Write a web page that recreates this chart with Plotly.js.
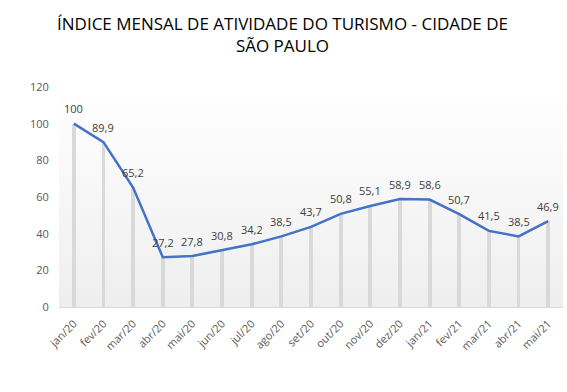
<!DOCTYPE html>
<html>
<head>
<meta charset="utf-8">
<script src="https://cdn.plot.ly/plotly-3.0.1.min.js"></script>
<style>html,body{margin:0;padding:0;background:#fff;}#chart{width:567px;height:392px;}</style>
</head>
<body>
<div id="chart"></div>
<script>
const months = ["jan/20","fev/20","mar/20","abr/20","mai/20","jun/20","jul/20","ago/20","set/20","out/20","nov/20","dez/20","jan/21","fev/21","mar/21","abr/21","mai/21"];
const indexValues = [100, 89.9, 65.2, 27.2, 27.8, 30.8, 34.2, 38.5, 43.7, 50.8, 55.1, 58.9, 58.6, 50.7, 41.5, 38.5, 46.9];
const yTicks = [0, 20, 40, 60, 80, 100, 120];
const titleText = "ÍNDICE MENSAL DE ATIVIDADE DO TURISMO - CIDADE DE<br>SÃO PAULO";

const fmt = v => (Number.isInteger(v) ? String(v) : v.toFixed(1).replace('.', ','));

const gradSvg = '<svg xmlns="http://www.w3.org/2000/svg" width="10" height="100" preserveAspectRatio="none"><defs><linearGradient id="g" x1="0" y1="0" x2="0" y2="1"><stop offset="0" stop-color="#ffffff"/><stop offset="1" stop-color="#eeeeee"/></linearGradient></defs><rect width="10" height="100" fill="url(#g)"/></svg>';
const gradUri = 'data:image/svg+xml;base64,' + btoa(gradSvg);

const font = "Open Sans, Liberation Sans, sans-serif";

const traces = [
  {
    type: 'bar',
    x: months,
    y: indexValues,
    width: 0.13,
    marker: {color: '#d9d9d9', line: {width: 0}},
    hoverinfo: 'skip',
    showlegend: false
  },
  {
    type: 'scatter',
    mode: 'lines',
    x: months,
    y: indexValues,
    line: {color: '#4472C4', width: 2.5},
    hoverinfo: 'skip',
    showlegend: false
  }
];

const labelAnns = months.map((m, i) => ({
  x: m, y: indexValues[i], xref: 'x', yref: 'y',
  text: fmt(indexValues[i]),
  showarrow: false,
  yanchor: 'middle',
  yshift: 15,
  font: {family: font, size: 11, color: '#404040'}
}));

const titleAnn = {
  xref: 'paper', yref: 'paper',
  x: 0.443, y: 1.35, xanchor: 'center', yanchor: 'top',
  text: titleText, showarrow: false,
  font: {family: font, size: 17, color: '#000000'}
};

const layout = {
  width: 567,
  height: 392,
  margin: {l: 59, r: 4, t: 87, b: 85},
  paper_bgcolor: '#ffffff',
  plot_bgcolor: 'rgba(0,0,0,0)',
  font: {family: font, color: '#595959'},
  xaxis: {
    type: 'category',
    tickangle: -45,
    tickfont: {family: font, size: 11, color: '#595959'},
    showgrid: false,
    zeroline: false,
    showline: false,
    ticks: 'outside',
    ticklen: 5,
    tickcolor: 'rgba(0,0,0,0)',
    range: [-0.5, 16.5],
    fixedrange: true
  },
  yaxis: {
    range: [0, 120],
    tickvals: yTicks,
    tickfont: {family: font, size: 11, color: '#595959'},
    showgrid: false,
    zeroline: true,
    zerolinecolor: '#d9d9d9',
    zerolinewidth: 1,
    showline: false,
    ticks: 'outside',
    ticklen: 7,
    tickcolor: 'rgba(0,0,0,0)',
    fixedrange: true
  },
  annotations: [titleAnn].concat(labelAnns),
  images: [{
    source: gradUri,
    xref: 'paper', yref: 'paper',
    x: 0, y: 1, sizex: 1, sizey: 1,
    xanchor: 'left', yanchor: 'top',
    sizing: 'stretch',
    layer: 'below'
  }],
  bargap: 0
};

Plotly.newPlot('chart', traces, layout, {displayModeBar: false, staticPlot: true});
</script>
</body>
</html>
